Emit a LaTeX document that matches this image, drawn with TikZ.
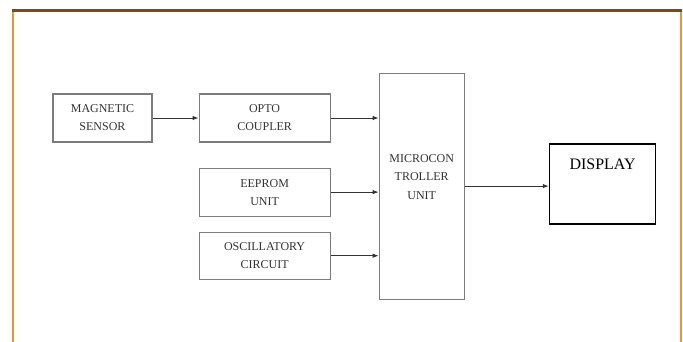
\documentclass[tikz,border=0pt]{standalone}
\usepackage{fontspec}
\setmainfont{Liberation Serif}
\usepackage{tikz}
\usetikzlibrary{arrows.meta,positioning}

\definecolor{framebrown}{HTML}{7A4B12}
\definecolor{frameorange}{HTML}{E8982E}
\definecolor{boxgray}{HTML}{7C7C7C}
\definecolor{textgray}{HTML}{333333}

\begin{document}
\begin{tikzpicture}[
  >={Latex[length=6pt,width=4.5pt]},
  blk/.style={draw=boxgray,line width=1.1pt,minimum width=131pt,minimum height=48pt,align=center,text=textgray,font=\fontsize{12}{18}\selectfont},
  mcu/.style={draw=boxgray,line width=1.1pt,minimum width=85pt,minimum height=226pt},
  disp/.style={draw=black,line width=1.6pt,minimum width=106pt,minimum height=80pt},
  lbl/.style={align=center,text=textgray,font=\fontsize{12}{18.5}\selectfont},
  sig/.style={->,line width=0.9pt,draw=textgray}
]
\useasboundingbox[fill=white] (0pt,0pt) rectangle (683pt,342pt);
% frame
\draw[frameorange,line width=1.4pt] (13pt,0pt) -- (13pt,331pt);
\draw[frameorange,line width=1.4pt] (681pt,0pt) -- (681pt,331pt);
\draw[framebrown,line width=2.6pt] (12pt,331.5pt) -- (682pt,331.5pt);

\node[blk,minimum width=99pt] (mag) at (102.5pt,224pt) {MAGNETIC\\SENSOR};
\node[blk,right=46pt of mag] (opto) {OPTO\\COUPLER};
\node[blk,below=25pt of opto] (eeprom) {EEPROM\\UNIT};
\node[blk,below=15pt of eeprom,minimum height=47pt] (osc) {OSCILLATORY\\CIRCUIT};
\node[mcu,right=48pt of eeprom,yshift=6pt,
  label={[lbl,anchor=north,yshift=-78pt]north:MICROCON\\TROLLER\\UNIT}] (mcu) {};
\node[disp,right=84pt of mcu,yshift=2pt,
  label={[anchor=north,yshift=-12pt,font=\fontsize{16}{18}\selectfont]north:DISPLAY}] (disp) {};

\draw[sig] (mag) -- (opto);
\draw[sig] (opto.east) -- (opto.east -| mcu.west);
\draw[sig] (eeprom.east) -- (eeprom.east -| mcu.west);
\draw[sig] (osc.east) -- (osc.east -| mcu.west);
\draw[sig] (mcu.east) -- (mcu.east -| disp.west);
\end{tikzpicture}
\end{document}
